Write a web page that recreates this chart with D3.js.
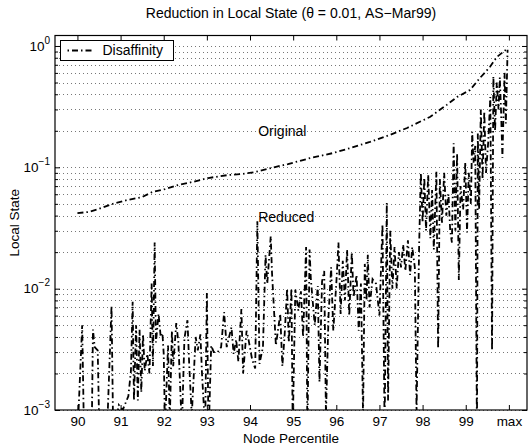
<!DOCTYPE html>
<html>
<head>
<meta charset="utf-8">
<script src="https://cdn.jsdelivr.net/npm/d3@7"></script>
<style>
  html, body { margin: 0; padding: 0; background: #fff; }
  svg { display: block; font-family: "Liberation Sans", Arial, Helvetica, sans-serif; }
</style>
</head>
<body>
<svg id="chart" width="530" height="445"></svg>
<script>
// Tick definitions
const xTicks = [90, 91, 92, 93, 94, 95, 96, 97, 98, 99, 100];
const xTickLabels = ["90", "91", "92", "93", "94", "95", "96", "97", "98", "99", "max"];
const yMajorTicks = [1e-3, 1e-2, 1e-1, 1];
const yTickExponents = ["\u22123", "\u22122", "\u22121", "0"];

// Local state before reduction (per node percentile)
const originalPct = [90.0, 90.25, 90.48, 90.8, 91.15, 91.5, 91.73, 92.03, 92.33, 92.66,
  93.03, 93.49, 93.82, 94.12, 94.58, 94.88, 95.39, 95.92, 96.32, 96.78,
  97.24, 97.64, 98.17, 98.56, 98.8, 99.1, 99.33, 99.56, 99.72, 99.98];
const originalVal = [0.042, 0.0428, 0.0452, 0.0498, 0.0537, 0.0569, 0.0625, 0.0662, 0.0714, 0.0756,
  0.0816, 0.0864, 0.0881, 0.0915, 0.1005, 0.1064, 0.119, 0.131, 0.144, 0.162,
  0.185, 0.211, 0.26, 0.327, 0.38, 0.434, 0.545, 0.671, 0.811, 0.96];

// Local state after reduction (per node percentile)
const reducedPct = [
  90.00, 90.11, 90.15, 90.33, 90.36, 90.40, 90.47, 90.51, 90.70, 90.79,
  90.83, 90.96, 91.05, 91.18, 91.24, 91.28, 91.31, 91.36, 91.40, 91.44,
  91.48, 91.52, 91.56, 91.62, 91.67, 91.72, 91.75, 91.79, 91.82, 91.88,
  91.93, 91.97, 92.00, 92.03, 92.10, 92.14, 92.19, 92.22, 92.29, 92.34,
  92.42, 92.48, 92.55, 92.59, 92.65, 92.74, 92.79, 92.85, 92.89, 92.96,
  93.00, 93.04, 93.10, 93.16, 93.25, 93.33, 93.40, 93.46, 93.50, 93.57,
  93.62, 93.68, 93.73, 93.80, 93.84, 93.92, 93.96, 94.05, 94.12, 94.17,
  94.22, 94.30, 94.36, 94.40, 94.48, 94.51, 94.60, 94.70, 94.75, 94.80,
  94.86, 94.90, 94.96, 94.99, 95.05, 95.12, 95.18, 95.23, 95.30, 95.33,
  95.38, 95.41, 95.50, 95.57, 95.61, 95.67, 95.72, 95.76, 95.82, 95.88,
  95.93, 96.00, 96.05, 96.10, 96.15, 96.20, 96.25, 96.30, 96.36, 96.40,
  96.47, 96.52, 96.57, 96.62, 96.66, 96.70, 96.73, 96.77, 96.84, 96.92,
  97.00, 97.07, 97.12, 97.17, 97.20, 97.25, 97.30, 97.35, 97.40, 97.45,
  97.50, 97.55, 97.60, 97.66, 97.71, 97.76, 97.82, 97.86, 97.92, 97.96,
  98.00, 98.04, 98.08, 98.13, 98.18, 98.22, 98.26, 98.32, 98.36, 98.40,
  98.45, 98.50, 98.55, 98.60, 98.64, 98.68, 98.72, 98.76, 98.80, 98.84,
  98.88, 98.94, 98.99, 99.03, 99.07, 99.12, 99.15, 99.18, 99.22, 99.26,
  99.28, 99.31, 99.35, 99.39, 99.43, 99.47, 99.52, 99.57, 99.61, 99.64,
  99.68, 99.72, 99.76, 99.79, 99.82, 99.85, 99.90, 99.93, 99.97];
const reducedVal = [
  0.0006, 0.0050, 0.0007, 0.0006, 0.0046, 0.0033, 0.0031, 0.0006, 0.0009, 0.0072,
  0.0006, 0.0011, 0.0010, 0.0013, 0.0021, 0.0078, 0.0012, 0.0050, 0.0012, 0.0046,
  0.0014, 0.0042, 0.0021, 0.0029, 0.0020, 0.0110, 0.0023, 0.0240, 0.0036, 0.0062,
  0.0040, 0.0043, 0.0029, 0.0007, 0.0034, 0.0008, 0.0045, 0.0023, 0.0052, 0.0036,
  0.0007, 0.0039, 0.0055, 0.0024, 0.0009, 0.0040, 0.0031, 0.0042, 0.0019, 0.0007,
  0.0092, 0.0006, 0.0034, 0.0030, 0.0030, 0.0033, 0.0064, 0.0033, 0.0038, 0.0048,
  0.0029, 0.0038, 0.0025, 0.0068, 0.0020, 0.0045, 0.0039, 0.0026, 0.0022, 0.0360,
  0.0024, 0.0033, 0.0190, 0.0110, 0.0270, 0.0135, 0.0034, 0.0062, 0.0023, 0.0040,
  0.0100, 0.0036, 0.0100, 0.0007, 0.0098, 0.0066, 0.0095, 0.0040, 0.0220, 0.0006,
  0.0210, 0.0120, 0.0050, 0.0105, 0.0017, 0.0115, 0.0140, 0.0009, 0.0060, 0.0150,
  0.0045, 0.0110, 0.0240, 0.0062, 0.0170, 0.0080, 0.0210, 0.0060, 0.0200, 0.0085,
  0.0130, 0.0045, 0.0110, 0.0009, 0.0160, 0.0080, 0.0190, 0.0070, 0.0120, 0.0110,
  0.0060, 0.0340, 0.0007, 0.0510, 0.0012, 0.0300, 0.0100, 0.0220, 0.0100, 0.0200,
  0.0150, 0.0230, 0.0140, 0.0250, 0.0130, 0.0220, 0.0150, 0.00095, 0.0230, 0.0900,
  0.0350, 0.0820, 0.0300, 0.0870, 0.0260, 0.0650, 0.0210, 0.0920, 0.0032, 0.0800,
  0.0350, 0.0900, 0.0400, 0.0600, 0.0300, 0.0240, 0.1580, 0.0300, 0.1300, 0.0118,
  0.0700, 0.0450, 0.1100, 0.0290, 0.0900, 0.0500, 0.1960, 0.1090, 0.1500, 0.0006,
  0.1900, 0.0450, 0.3000, 0.0800, 0.2900, 0.0900, 0.1600, 0.3800, 0.0031, 0.5600,
  0.2000, 0.5000, 0.3000, 0.5500, 0.2800, 0.1200, 0.6000, 0.2300, 0.9300];

const titleText = "Reduction in Local State (\u03B8 = 0.01, AS\u2212Mar99)";
const xLabelText = "Node Percentile";
const yLabelText = "Local State";
const legendText = "Disaffinity";
// In-plot annotations: [label, percentile, local state]
const annotations = [["Original", 94.19, 0.2], ["Reduced", 94.19, 0.039]];

// Layout
const plot = { left: 55, right: 527, top: 35.5, bottom: 410 };
const dash = "6,3,1.5,3";
const fontSize = 14;
const tickFont = 13.5;

const svg = d3.select("#chart");

const x = d3.scaleLinear().domain([89.48, 100.42]).range([plot.left, plot.right]);
const y = d3.scaleLog().domain([1e-3, 1.22]).range([plot.bottom, plot.top]);

// Minor / major grid values on the log axis
const gridVals = [];
for (let e = -3; e <= -1; e++) {
  for (let m = 1; m <= 9; m++) gridVals.push(m * Math.pow(10, e));
}
gridVals.push(1);
const minorVals = gridVals.filter(v => !yMajorTicks.some(t => Math.abs(t - v) / t < 1e-9));

// Horizontal dotted grid
svg.append("g")
  .selectAll("line")
  .data(gridVals)
  .join("line")
  .attr("x1", plot.left)
  .attr("x2", plot.right)
  .attr("y1", d => Math.round(y(d)) + 0.5)
  .attr("y2", d => Math.round(y(d)) + 0.5)
  .attr("stroke", "#777")
  .attr("stroke-width", 1)
  .attr("stroke-dasharray", "1,3");

// Clip region for the data lines
svg.append("defs").append("clipPath").attr("id", "plotClip")
  .append("rect")
  .attr("x", plot.left).attr("y", plot.top)
  .attr("width", plot.right - plot.left)
  .attr("height", plot.bottom - plot.top);

const line = d3.line().x(d => x(d[0])).y(d => y(d[1]));

const dataG = svg.append("g").attr("clip-path", "url(#plotClip)");

dataG.append("path")
  .datum(reducedPct.map((p, i) => [p, reducedVal[i]]))
  .attr("d", line)
  .attr("fill", "none")
  .attr("stroke", "#000")
  .attr("stroke-width", 1.8)
  .attr("stroke-dasharray", dash);

dataG.append("path")
  .datum(originalPct.map((p, i) => [p, originalVal[i]]))
  .attr("d", line)
  .attr("fill", "none")
  .attr("stroke", "#000")
  .attr("stroke-width", 1.8)
  .attr("stroke-dasharray", dash);

// Axes
function styleAxis(g) {
  g.select(".domain").remove();
  g.selectAll(".tick line").attr("stroke", "#000");
  g.selectAll(".tick text").attr("fill", "#000").attr("font-size", tickFont)
    .attr("font-family", "'Liberation Sans', Arial, Helvetica, sans-serif");
}

svg.append("g")
  .attr("transform", `translate(0,${plot.bottom})`)
  .call(d3.axisBottom(x).tickValues(xTicks).tickFormat((d, i) => xTickLabels[i])
    .tickSizeInner(-5).tickSizeOuter(0).tickPadding(6))
  .call(styleAxis);

svg.append("g")
  .attr("transform", `translate(0,${plot.top})`)
  .call(d3.axisTop(x).tickValues(xTicks).tickFormat("")
    .tickSizeInner(-5).tickSizeOuter(0))
  .call(styleAxis);

const leftAxis = svg.append("g")
  .attr("transform", `translate(${plot.left},0)`)
  .call(d3.axisLeft(y).tickValues(yMajorTicks).tickFormat(() => "10")
    .tickSizeInner(-5).tickSizeOuter(0).tickPadding(5))
  .call(styleAxis);

// Exponents as superscripts
leftAxis.selectAll(".tick text")
  .attr("dy", "0.3em")
  .each(function(d) {
    const t = d3.select(this);
    t.text("");
    t.append("tspan").text("10");
    t.append("tspan").attr("font-size", 10).attr("dy", -7)
      .text(yTickExponents[yMajorTicks.indexOf(d)]);
  });

svg.append("g")
  .attr("transform", `translate(${plot.left},0)`)
  .call(d3.axisLeft(y).tickValues(minorVals).tickFormat("")
    .tickSizeInner(-3).tickSizeOuter(0))
  .call(styleAxis);

svg.append("g")
  .attr("transform", `translate(${plot.right},0)`)
  .call(d3.axisRight(y).tickValues(yMajorTicks).tickFormat("")
    .tickSizeInner(-5).tickSizeOuter(0))
  .call(styleAxis);

svg.append("g")
  .attr("transform", `translate(${plot.right},0)`)
  .call(d3.axisRight(y).tickValues(minorVals).tickFormat("")
    .tickSizeInner(-3).tickSizeOuter(0))
  .call(styleAxis);

// Frame
svg.append("rect")
  .attr("x", plot.left).attr("y", plot.top)
  .attr("width", plot.right - plot.left)
  .attr("height", plot.bottom - plot.top)
  .attr("fill", "none")
  .attr("stroke", "#000")
  .attr("stroke-width", 1.2);

// Annotations
svg.append("g")
  .selectAll("text")
  .data(annotations)
  .join("text")
  .attr("x", d => x(d[1]))
  .attr("y", d => y(d[2]))
  .attr("dy", "0.35em")
  .attr("font-size", fontSize)
  .attr("fill", "#000")
  .text(d => d[0]);

// Title and axis labels
svg.append("text")
  .attr("x", (plot.left + plot.right) / 2)
  .attr("y", 18)
  .attr("text-anchor", "middle")
  .attr("font-size", fontSize)
  .text(titleText);

svg.append("text")
  .attr("x", (plot.left + plot.right) / 2)
  .attr("y", 442.5)
  .attr("text-anchor", "middle")
  .attr("font-size", 13.5)
  .text(xLabelText);

svg.append("text")
  .attr("transform", `translate(19,${(plot.top + plot.bottom) / 2}) rotate(-90)`)
  .attr("text-anchor", "middle")
  .attr("font-size", 13.5)
  .text(yLabelText);

// Legend
const legend = svg.append("g");
legend.append("rect")
  .attr("x", 60.5).attr("y", 40.5)
  .attr("width", 113).attr("height", 20)
  .attr("fill", "#fff")
  .attr("stroke", "#000")
  .attr("stroke-width", 1);
legend.append("line")
  .attr("x1", 67.5).attr("x2", 93.5)
  .attr("y1", 50.5).attr("y2", 50.5)
  .attr("stroke", "#000")
  .attr("stroke-width", 1.8)
  .attr("stroke-dasharray", dash)
  .attr("stroke-dashoffset", 9);
legend.append("text")
  .attr("x", 102.5).attr("y", 50.5)
  .attr("dy", "0.35em")
  .attr("font-size", fontSize)
  .text(legendText);
</script>
</body>
</html>
